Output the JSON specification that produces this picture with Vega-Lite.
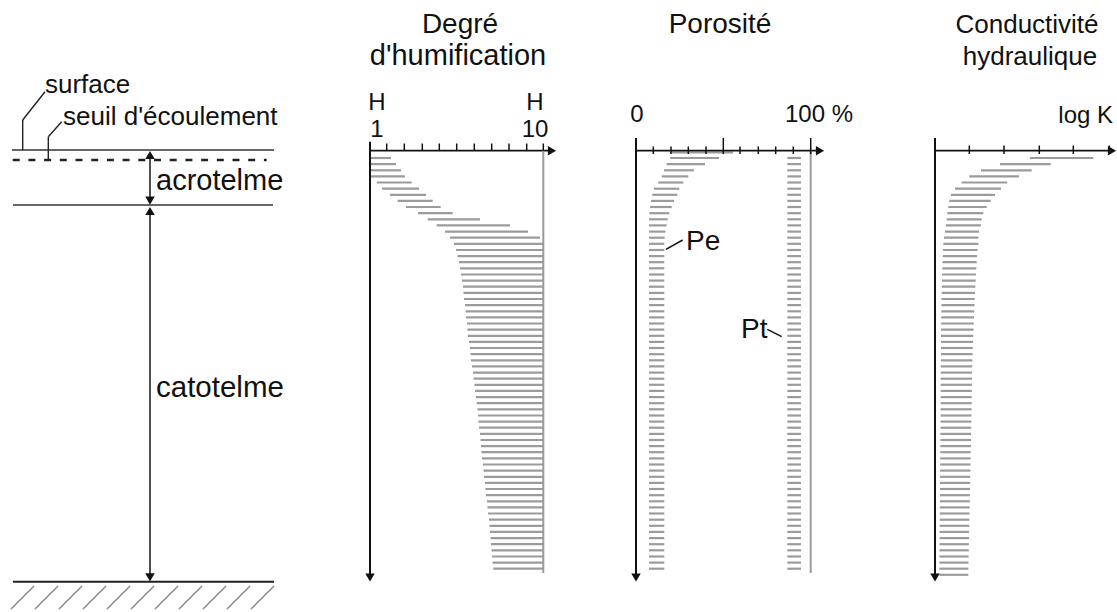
{
"$schema":"https://vega.github.io/schema/vega-lite/v6.json",
"width":1117,"height":612,"autosize":"none","padding":0,
"background":"white",
"config":{"view":{"stroke":null}},
"datasets":{
"bars":[
{"g":"H","y":158.0,"a":370,"b":391},{"g":"H","y":164.1,"a":370,"b":396},{"g":"H","y":170.3,"a":370,"b":401},{"g":"H","y":176.4,"a":370,"b":405},
{"g":"H","y":182.5,"a":376.7,"b":411.7},{"g":"H","y":188.7,"a":382,"b":419},{"g":"H","y":194.8,"a":390,"b":426},{"g":"H","y":200.9,"a":397.7,"b":432.7},
{"g":"H","y":207.0,"a":406,"b":440.7},{"g":"H","y":213.2,"a":418,"b":452.7},{"g":"H","y":219.3,"a":427.7,"b":480},{"g":"H","y":225.4,"a":436.7,"b":510},
{"g":"H","y":231.6,"a":445,"b":528},{"g":"H","y":237.7,"a":450,"b":540},{"g":"H","y":243.8,"a":454,"b":543.3},{"g":"H","y":250.0,"a":456,"b":543.3},
{"g":"H","y":256.1,"a":457.5,"b":543.3},{"g":"H","y":262.2,"a":459,"b":543.3},{"g":"H","y":268.3,"a":460,"b":543.3},{"g":"H","y":274.5,"a":461,"b":543.3},
{"g":"H","y":280.6,"a":462,"b":543.3},{"g":"H","y":286.7,"a":463,"b":543.3},{"g":"H","y":292.9,"a":463.5,"b":543.3},{"g":"H","y":299.0,"a":464,"b":543.3},
{"g":"H","y":305.1,"a":465,"b":543.3},{"g":"H","y":311.3,"a":465.5,"b":543.3},{"g":"H","y":317.4,"a":466,"b":543.3},{"g":"H","y":323.5,"a":467,"b":543.3},
{"g":"H","y":329.6,"a":467.5,"b":543.3},{"g":"H","y":335.8,"a":468,"b":543.3},{"g":"H","y":341.9,"a":469,"b":543.3},{"g":"H","y":348.0,"a":470,"b":543.3},
{"g":"H","y":354.2,"a":470.5,"b":543.3},{"g":"H","y":360.3,"a":471,"b":543.3},{"g":"H","y":366.4,"a":472,"b":543.3},{"g":"H","y":372.6,"a":473,"b":543.3},
{"g":"H","y":378.7,"a":473.5,"b":543.3},{"g":"H","y":384.8,"a":474.5,"b":543.3},{"g":"H","y":390.9,"a":475,"b":543.3},{"g":"H","y":397.1,"a":476,"b":543.3},
{"g":"H","y":403.2,"a":476.7,"b":543.3},{"g":"H","y":409.3,"a":477.5,"b":543.3},{"g":"H","y":415.5,"a":478,"b":543.3},{"g":"H","y":421.6,"a":478.5,"b":543.3},
{"g":"H","y":427.7,"a":479,"b":543.3},{"g":"H","y":433.9,"a":480,"b":543.3},{"g":"H","y":440.0,"a":480.5,"b":543.3},{"g":"H","y":446.1,"a":481,"b":543.3},
{"g":"H","y":452.2,"a":481.5,"b":543.3},{"g":"H","y":458.4,"a":482,"b":543.3},{"g":"H","y":464.5,"a":483,"b":543.3},{"g":"H","y":470.6,"a":483.5,"b":543.3},
{"g":"H","y":476.8,"a":484,"b":543.3},{"g":"H","y":482.9,"a":485,"b":543.3},{"g":"H","y":489.0,"a":485.5,"b":543.3},{"g":"H","y":495.2,"a":486,"b":543.3},
{"g":"H","y":501.3,"a":487,"b":543.3},{"g":"H","y":507.4,"a":487.5,"b":543.3},{"g":"H","y":513.5,"a":488,"b":543.3},{"g":"H","y":519.7,"a":489,"b":543.3},
{"g":"H","y":525.8,"a":489.5,"b":543.3},{"g":"H","y":531.9,"a":490,"b":543.3},{"g":"H","y":538.1,"a":490.5,"b":543.3},{"g":"H","y":544.2,"a":491,"b":543.3},
{"g":"H","y":550.3,"a":491.5,"b":543.3},{"g":"H","y":556.5,"a":492,"b":543.3},{"g":"H","y":562.6,"a":492.5,"b":543.3},{"g":"H","y":568.7,"a":493.3,"b":543.3},

{"g":"Pe","y":152.5,"a":671,"b":733},
{"g":"Pe","y":158.0,"a":670,"b":719},{"g":"Pe","y":164.1,"a":666.7,"b":705},{"g":"Pe","y":170.3,"a":664,"b":694},{"g":"Pe","y":176.4,"a":661.7,"b":688.3},
{"g":"Pe","y":182.5,"a":658.3,"b":683.3},{"g":"Pe","y":188.7,"a":654,"b":679.3},{"g":"Pe","y":194.8,"a":652.3,"b":677.3},{"g":"Pe","y":200.9,"a":651,"b":674},
{"g":"Pe","y":207.0,"a":650,"b":671.7},{"g":"Pe","y":213.2,"a":649.3,"b":669.3},{"g":"Pe","y":219.3,"a":649,"b":667.7},{"g":"Pe","y":225.4,"a":649,"b":666.7},
{"g":"Pe","y":231.6,"a":649,"b":665.5},{"g":"Pe","y":237.7,"a":649,"b":664.7},{"g":"Pe","y":243.8,"a":649,"b":664.3},{"g":"Pe","y":250.0,"a":649,"b":664.3},
{"g":"Pe","y":256.1,"a":649,"b":664.3},{"g":"Pe","y":262.2,"a":649,"b":664.3},{"g":"Pe","y":268.3,"a":649,"b":664.3},{"g":"Pe","y":274.5,"a":649,"b":664.3},
{"g":"Pe","y":280.6,"a":649,"b":664.3},{"g":"Pe","y":286.7,"a":649,"b":664.3},{"g":"Pe","y":292.9,"a":649,"b":664.3},{"g":"Pe","y":299.0,"a":649,"b":664.3},
{"g":"Pe","y":305.1,"a":649,"b":664.3},{"g":"Pe","y":311.3,"a":649,"b":664.3},{"g":"Pe","y":317.4,"a":649,"b":664.3},{"g":"Pe","y":323.5,"a":649,"b":664.3},
{"g":"Pe","y":329.6,"a":649,"b":664.3},{"g":"Pe","y":335.8,"a":649,"b":664.3},{"g":"Pe","y":341.9,"a":649,"b":664.3},{"g":"Pe","y":348.0,"a":649,"b":664.3},
{"g":"Pe","y":354.2,"a":649,"b":664.3},{"g":"Pe","y":360.3,"a":649,"b":664.3},{"g":"Pe","y":366.4,"a":649,"b":664.3},{"g":"Pe","y":372.6,"a":649,"b":664.3},
{"g":"Pe","y":378.7,"a":649,"b":664.3},{"g":"Pe","y":384.8,"a":649,"b":664.3},{"g":"Pe","y":390.9,"a":649,"b":664.3},{"g":"Pe","y":397.1,"a":649,"b":664.3},
{"g":"Pe","y":403.2,"a":649,"b":664.3},{"g":"Pe","y":409.3,"a":649,"b":664.3},{"g":"Pe","y":415.5,"a":649,"b":664.3},{"g":"Pe","y":421.6,"a":649,"b":664.3},
{"g":"Pe","y":427.7,"a":649,"b":664.3},{"g":"Pe","y":433.9,"a":649,"b":664.3},{"g":"Pe","y":440.0,"a":649,"b":664.3},{"g":"Pe","y":446.1,"a":649,"b":664.3},
{"g":"Pe","y":452.2,"a":649,"b":664.3},{"g":"Pe","y":458.4,"a":649,"b":664.3},{"g":"Pe","y":464.5,"a":649,"b":664.3},{"g":"Pe","y":470.6,"a":649,"b":664.3},
{"g":"Pe","y":476.8,"a":649,"b":664.3},{"g":"Pe","y":482.9,"a":649,"b":664.3},{"g":"Pe","y":489.0,"a":649,"b":664.3},{"g":"Pe","y":495.2,"a":649,"b":664.3},
{"g":"Pe","y":501.3,"a":649,"b":664.3},{"g":"Pe","y":507.4,"a":649,"b":664.3},{"g":"Pe","y":513.5,"a":649,"b":664.3},{"g":"Pe","y":519.7,"a":649,"b":664.3},
{"g":"Pe","y":525.8,"a":649,"b":664.3},{"g":"Pe","y":531.9,"a":649,"b":664.3},{"g":"Pe","y":538.1,"a":649,"b":664.3},{"g":"Pe","y":544.2,"a":649,"b":664.3},
{"g":"Pe","y":550.3,"a":649,"b":664.3},{"g":"Pe","y":556.5,"a":649,"b":664.3},{"g":"Pe","y":562.6,"a":649,"b":664.3},{"g":"Pe","y":568.7,"a":649,"b":664.3},

{"g":"Pt","y":158.0,"a":787.3,"b":801},{"g":"Pt","y":164.1,"a":787.3,"b":801},{"g":"Pt","y":170.3,"a":787.3,"b":801},{"g":"Pt","y":176.4,"a":787.3,"b":801},
{"g":"Pt","y":182.5,"a":787.3,"b":801},{"g":"Pt","y":188.7,"a":787.3,"b":801},{"g":"Pt","y":194.8,"a":787.3,"b":801},{"g":"Pt","y":200.9,"a":787.3,"b":801},
{"g":"Pt","y":207.0,"a":787.3,"b":801},{"g":"Pt","y":213.2,"a":787.3,"b":801},{"g":"Pt","y":219.3,"a":787.3,"b":801},{"g":"Pt","y":225.4,"a":787.3,"b":801},
{"g":"Pt","y":231.6,"a":787.3,"b":801},{"g":"Pt","y":237.7,"a":787.3,"b":801},{"g":"Pt","y":243.8,"a":787.3,"b":801},{"g":"Pt","y":250.0,"a":787.3,"b":801},
{"g":"Pt","y":256.1,"a":787.3,"b":801},{"g":"Pt","y":262.2,"a":787.3,"b":801},{"g":"Pt","y":268.3,"a":787.3,"b":801},{"g":"Pt","y":274.5,"a":787.3,"b":801},
{"g":"Pt","y":280.6,"a":787.3,"b":801},{"g":"Pt","y":286.7,"a":787.3,"b":801},{"g":"Pt","y":292.9,"a":787.3,"b":801},{"g":"Pt","y":299.0,"a":787.3,"b":801},
{"g":"Pt","y":305.1,"a":787.3,"b":801},{"g":"Pt","y":311.3,"a":787.3,"b":801},{"g":"Pt","y":317.4,"a":787.3,"b":801},{"g":"Pt","y":323.5,"a":787.3,"b":801},
{"g":"Pt","y":329.6,"a":787.3,"b":801},{"g":"Pt","y":335.8,"a":787.3,"b":801},{"g":"Pt","y":341.9,"a":787.3,"b":801},{"g":"Pt","y":348.0,"a":787.3,"b":801},
{"g":"Pt","y":354.2,"a":787.3,"b":801},{"g":"Pt","y":360.3,"a":787.3,"b":801},{"g":"Pt","y":366.4,"a":787.3,"b":801},{"g":"Pt","y":372.6,"a":787.3,"b":801},
{"g":"Pt","y":378.7,"a":787.3,"b":801},{"g":"Pt","y":384.8,"a":787.3,"b":801},{"g":"Pt","y":390.9,"a":787.3,"b":801},{"g":"Pt","y":397.1,"a":787.3,"b":801},
{"g":"Pt","y":403.2,"a":787.3,"b":801},{"g":"Pt","y":409.3,"a":787.3,"b":801},{"g":"Pt","y":415.5,"a":787.3,"b":801},{"g":"Pt","y":421.6,"a":787.3,"b":801},
{"g":"Pt","y":427.7,"a":787.3,"b":801},{"g":"Pt","y":433.9,"a":787.3,"b":801},{"g":"Pt","y":440.0,"a":787.3,"b":801},{"g":"Pt","y":446.1,"a":787.3,"b":801},
{"g":"Pt","y":452.2,"a":787.3,"b":801},{"g":"Pt","y":458.4,"a":787.3,"b":801},{"g":"Pt","y":464.5,"a":787.3,"b":801},{"g":"Pt","y":470.6,"a":787.3,"b":801},
{"g":"Pt","y":476.8,"a":787.3,"b":801},{"g":"Pt","y":482.9,"a":787.3,"b":801},{"g":"Pt","y":489.0,"a":787.3,"b":801},{"g":"Pt","y":495.2,"a":787.3,"b":801},
{"g":"Pt","y":501.3,"a":787.3,"b":801},{"g":"Pt","y":507.4,"a":787.3,"b":801},{"g":"Pt","y":513.5,"a":787.3,"b":801},{"g":"Pt","y":519.7,"a":787.3,"b":801},
{"g":"Pt","y":525.8,"a":787.3,"b":801},{"g":"Pt","y":531.9,"a":787.3,"b":801},{"g":"Pt","y":538.1,"a":787.3,"b":801},{"g":"Pt","y":544.2,"a":787.3,"b":801},
{"g":"Pt","y":550.3,"a":787.3,"b":801},{"g":"Pt","y":556.5,"a":787.3,"b":801},{"g":"Pt","y":562.6,"a":787.3,"b":801},{"g":"Pt","y":568.7,"a":787.3,"b":801},

{"g":"K","y":158.0,"a":1030,"b":1093.3},{"g":"K","y":164.1,"a":1000,"b":1050.7},{"g":"K","y":170.3,"a":981,"b":1031.7},{"g":"K","y":176.4,"a":969.3,"b":1019},
{"g":"K","y":182.5,"a":961.7,"b":1007.3},{"g":"K","y":188.7,"a":955,"b":1001},{"g":"K","y":194.8,"a":951,"b":995},{"g":"K","y":200.9,"a":949.3,"b":990.7},
{"g":"K","y":207.0,"a":948.3,"b":986.7},{"g":"K","y":213.2,"a":947.3,"b":983.3},{"g":"K","y":219.3,"a":946.7,"b":981.7},{"g":"K","y":225.4,"a":945.7,"b":980.7},
{"g":"K","y":231.6,"a":945,"b":979},{"g":"K","y":237.7,"a":944,"b":978.3},{"g":"K","y":243.8,"a":943.3,"b":978.3},{"g":"K","y":250.0,"a":943,"b":977.5},
{"g":"K","y":256.1,"a":942.7,"b":977},{"g":"K","y":262.2,"a":942.5,"b":976.7},{"g":"K","y":268.3,"a":942.3,"b":976.3},{"g":"K","y":274.5,"a":942,"b":976},
{"g":"K","y":280.6,"a":942,"b":975.7},{"g":"K","y":286.7,"a":941.8,"b":975.3},{"g":"K","y":292.9,"a":941.7,"b":975},{"g":"K","y":299.0,"a":941.5,"b":974.7},
{"g":"K","y":305.1,"a":941.5,"b":974.5},{"g":"K","y":311.3,"a":941.3,"b":974.2},{"g":"K","y":317.4,"a":941.2,"b":974},{"g":"K","y":323.5,"a":941.1,"b":973.7},
{"g":"K","y":329.6,"a":941,"b":973.5},{"g":"K","y":335.8,"a":941,"b":973.3},{"g":"K","y":341.9,"a":941,"b":973},{"g":"K","y":348.0,"a":941,"b":972.8},
{"g":"K","y":354.2,"a":940.9,"b":972.6},{"g":"K","y":360.3,"a":940.9,"b":972.4},{"g":"K","y":366.4,"a":940.8,"b":972.2},{"g":"K","y":372.6,"a":940.8,"b":972},
{"g":"K","y":378.7,"a":940.8,"b":972},{"g":"K","y":384.8,"a":940.7,"b":971.9},{"g":"K","y":390.9,"a":940.7,"b":971.8},{"g":"K","y":397.1,"a":940.7,"b":971.7},
{"g":"K","y":403.2,"a":940.7,"b":971.7},{"g":"K","y":409.3,"a":940.6,"b":971.6},{"g":"K","y":415.5,"a":940.6,"b":971.5},{"g":"K","y":421.6,"a":940.5,"b":971.4},
{"g":"K","y":427.7,"a":940.5,"b":971.2},{"g":"K","y":433.9,"a":940.4,"b":971.1},{"g":"K","y":440.0,"a":940.4,"b":971},{"g":"K","y":446.1,"a":940.3,"b":970.9},
{"g":"K","y":452.2,"a":940.3,"b":970.7},{"g":"K","y":458.4,"a":940.2,"b":970.6},{"g":"K","y":464.5,"a":940.2,"b":970.5},{"g":"K","y":470.6,"a":940.1,"b":970.4},
{"g":"K","y":476.8,"a":940.1,"b":970.2},{"g":"K","y":482.9,"a":940,"b":970.1},{"g":"K","y":489.0,"a":940,"b":970},{"g":"K","y":495.2,"a":939.9,"b":969.9},
{"g":"K","y":501.3,"a":939.9,"b":969.8},{"g":"K","y":507.4,"a":939.8,"b":969.6},{"g":"K","y":513.5,"a":939.8,"b":969.5},{"g":"K","y":519.7,"a":939.7,"b":969.4},
{"g":"K","y":525.8,"a":939.7,"b":969.3},{"g":"K","y":531.9,"a":939.6,"b":969.1},{"g":"K","y":538.1,"a":939.6,"b":969},{"g":"K","y":544.2,"a":939.5,"b":968.9},
{"g":"K","y":550.3,"a":939.5,"b":968.8},{"g":"K","y":556.5,"a":939.4,"b":968.6},{"g":"K","y":562.6,"a":939.4,"b":968.5},{"g":"K","y":568.7,"a":939.3,"b":968.4},
{"g":"K","y":574.8,"a":939.3,"b":968.3}
],
"lines":[
{"x1":12,"y1":150,"x2":274,"y2":150,"c":"#333333","w":1.6},
{"x1":13,"y1":205,"x2":273,"y2":205,"c":"#333333","w":1.6},
{"x1":13,"y1":581.7,"x2":274,"y2":581.7,"c":"#222222","w":2},
{"x1":150,"y1":156,"x2":150,"y2":200,"c":"#222222","w":1.6},
{"x1":150,"y1":212,"x2":150,"y2":576,"c":"#222222","w":1.6},
{"x1":22.7,"y1":150,"x2":22.7,"y2":120,"c":"#222222","w":1.4},
{"x1":22.7,"y1":120,"x2":45,"y2":91.7,"c":"#222222","w":1.4},
{"x1":48.3,"y1":160,"x2":48.3,"y2":136.7,"c":"#222222","w":1.4},
{"x1":48.3,"y1":136.7,"x2":61.7,"y2":121.7,"c":"#222222","w":1.4},
{"x1":11,"y1":609,"x2":34,"y2":586,"c":"#888888","w":1.4},
{"x1":35,"y1":609,"x2":58,"y2":586,"c":"#888888","w":1.4},
{"x1":59,"y1":609,"x2":82,"y2":586,"c":"#888888","w":1.4},
{"x1":83,"y1":609,"x2":106,"y2":586,"c":"#888888","w":1.4},
{"x1":107,"y1":609,"x2":130,"y2":586,"c":"#888888","w":1.4},
{"x1":131,"y1":609,"x2":154,"y2":586,"c":"#888888","w":1.4},
{"x1":155,"y1":609,"x2":178,"y2":586,"c":"#888888","w":1.4},
{"x1":179,"y1":609,"x2":202,"y2":586,"c":"#888888","w":1.4},
{"x1":203,"y1":609,"x2":226,"y2":586,"c":"#888888","w":1.4},
{"x1":227,"y1":609,"x2":250,"y2":586,"c":"#888888","w":1.4},
{"x1":251,"y1":609,"x2":274,"y2":586,"c":"#888888","w":1.4},

{"x1":370,"y1":150.7,"x2":549,"y2":150.7,"c":"#111111","w":1.8},
{"x1":370,"y1":141.7,"x2":370,"y2":576,"c":"#111111","w":2},
{"x1":543.3,"y1":150.7,"x2":543.3,"y2":573,"c":"#9a9a9a","w":2},
{"x1":386.7,"y1":143.5,"x2":386.7,"y2":150.7,"c":"#111111","w":1.5},
{"x1":404.3,"y1":143.5,"x2":404.3,"y2":150.7,"c":"#111111","w":1.5},
{"x1":422.3,"y1":143.5,"x2":422.3,"y2":150.7,"c":"#111111","w":1.5},
{"x1":439.3,"y1":143.5,"x2":439.3,"y2":150.7,"c":"#111111","w":1.5},
{"x1":456.7,"y1":143.5,"x2":456.7,"y2":150.7,"c":"#111111","w":1.5},
{"x1":474.3,"y1":143.5,"x2":474.3,"y2":150.7,"c":"#111111","w":1.5},
{"x1":491.7,"y1":143.5,"x2":491.7,"y2":150.7,"c":"#111111","w":1.5},
{"x1":509,"y1":143.5,"x2":509,"y2":150.7,"c":"#111111","w":1.5},
{"x1":526.7,"y1":143.5,"x2":526.7,"y2":150.7,"c":"#111111","w":1.5},
{"x1":543.3,"y1":143.5,"x2":543.3,"y2":150.7,"c":"#111111","w":1.5},

{"x1":636,"y1":150.7,"x2":816,"y2":150.7,"c":"#111111","w":1.8},
{"x1":636,"y1":138,"x2":636,"y2":576,"c":"#111111","w":2},
{"x1":810.7,"y1":150.7,"x2":810.7,"y2":573,"c":"#9a9a9a","w":2},
{"x1":653.3,"y1":146.5,"x2":653.3,"y2":154,"c":"#111111","w":1.5},
{"x1":671,"y1":146.5,"x2":671,"y2":154,"c":"#111111","w":1.5},
{"x1":688.3,"y1":146.5,"x2":688.3,"y2":154,"c":"#111111","w":1.5},
{"x1":706,"y1":146.5,"x2":706,"y2":154,"c":"#111111","w":1.5},
{"x1":723.3,"y1":138,"x2":723.3,"y2":154,"c":"#111111","w":1.5},
{"x1":740,"y1":146.5,"x2":740,"y2":154,"c":"#111111","w":1.5},
{"x1":758.3,"y1":146.5,"x2":758.3,"y2":154,"c":"#111111","w":1.5},
{"x1":775.7,"y1":146.5,"x2":775.7,"y2":154,"c":"#111111","w":1.5},
{"x1":793.3,"y1":146.5,"x2":793.3,"y2":154,"c":"#111111","w":1.5},
{"x1":810.7,"y1":138,"x2":810.7,"y2":154,"c":"#111111","w":1.5},
{"x1":666,"y1":249.3,"x2":682.7,"y2":240,"c":"#111111","w":1.5},
{"x1":767.3,"y1":329.3,"x2":781.7,"y2":336.7,"c":"#111111","w":1.5},

{"x1":935,"y1":150.7,"x2":1109,"y2":150.7,"c":"#111111","w":1.8},
{"x1":935,"y1":138,"x2":935,"y2":576,"c":"#111111","w":2},
{"x1":969.3,"y1":145.5,"x2":969.3,"y2":154,"c":"#111111","w":1.5},
{"x1":1004,"y1":145.5,"x2":1004,"y2":154,"c":"#111111","w":1.5},
{"x1":1039.3,"y1":145.5,"x2":1039.3,"y2":154,"c":"#111111","w":1.5},
{"x1":1073.3,"y1":145.5,"x2":1073.3,"y2":154,"c":"#111111","w":1.5},
{"x1":1109.3,"y1":145.5,"x2":1109.3,"y2":154,"c":"#111111","w":1.5}
],
"dashed":[{"x1":12.7,"y1":160,"x2":266.7,"y2":160}],
"arrows":[
{"x":552,"y":150.7,"sh":"triangle-right"},
{"x":820,"y":150.7,"sh":"triangle-right"},
{"x":1112,"y":150.7,"sh":"triangle-right"},
{"x":370,"y":577.5,"sh":"triangle-down"},
{"x":636,"y":577.5,"sh":"triangle-down"},
{"x":935,"y":577.5,"sh":"triangle-down"},
{"x":150,"y":155,"sh":"triangle-up"},
{"x":150,"y":200.7,"sh":"triangle-down"},
{"x":150,"y":211,"sh":"triangle-up"},
{"x":150,"y":577.3,"sh":"triangle-down"}
],
"tleft":[
{"x":45,"y":93,"t":"surface","fs":26},
{"x":63,"y":125,"t":"seuil d'écoulement","fs":26},
{"x":156,"y":190,"t":"acrotelme","fs":29},
{"x":156,"y":397,"t":"catotelme","fs":29.5},
{"x":686,"y":250,"t":"Pe","fs":28},
{"x":741,"y":338,"t":"Pt","fs":28}
],
"tcenter":[
{"x":460,"y":33,"t":"Degré","fs":28},
{"x":458,"y":65,"t":"d'humification","fs":29},
{"x":720,"y":33,"t":"Porosité","fs":28},
{"x":1027,"y":33,"t":"Conductivité","fs":26},
{"x":1030,"y":65,"t":"hydraulique","fs":26},
{"x":377,"y":110,"t":"H","fs":24},
{"x":377,"y":137,"t":"1","fs":24},
{"x":535,"y":110,"t":"H","fs":24},
{"x":535,"y":137,"t":"10","fs":24},
{"x":637,"y":122,"t":"0","fs":24},
{"x":819,"y":122,"t":"100 %","fs":24}
],
"tright":[
{"x":1113,"y":123,"t":"log K","fs":24}
]
},
"layer":[
{"data":{"name":"bars"},
 "mark":{"type":"rule","color":"#9b9b9b","strokeWidth":2.2},
 "encoding":{
  "x":{"field":"a","type":"quantitative","scale":{"domain":[0,1117],"nice":false,"zero":false},"axis":null},
  "x2":{"field":"b"},
  "y":{"field":"y","type":"quantitative","scale":{"domain":[0,612],"nice":false,"zero":false,"reverse":true},"axis":null}}},
{"data":{"name":"lines"},
 "mark":{"type":"rule","strokeCap":"butt"},
 "encoding":{
  "x":{"field":"x1","type":"quantitative","scale":{"domain":[0,1117],"nice":false,"zero":false},"axis":null},
  "x2":{"field":"x2"},
  "y":{"field":"y1","type":"quantitative","scale":{"domain":[0,612],"nice":false,"zero":false,"reverse":true},"axis":null},
  "y2":{"field":"y2"},
  "color":{"field":"c","type":"nominal","scale":null},
  "strokeWidth":{"field":"w","type":"quantitative","scale":null}}},
{"data":{"name":"dashed"},
 "mark":{"type":"rule","color":"#222222","strokeWidth":2.6,"strokeDash":[7,8.7]},
 "encoding":{
  "x":{"field":"x1","type":"quantitative","scale":{"domain":[0,1117],"nice":false,"zero":false},"axis":null},
  "x2":{"field":"x2"},
  "y":{"field":"y1","type":"quantitative","scale":{"domain":[0,612],"nice":false,"zero":false,"reverse":true},"axis":null},
  "y2":{"field":"y2"}}},
{"data":{"name":"arrows"},
 "mark":{"type":"point","filled":true,"color":"#111111","opacity":1,"size":90},
 "encoding":{
  "x":{"field":"x","type":"quantitative","scale":{"domain":[0,1117],"nice":false,"zero":false},"axis":null},
  "y":{"field":"y","type":"quantitative","scale":{"domain":[0,612],"nice":false,"zero":false,"reverse":true},"axis":null},
  "shape":{"field":"sh","type":"nominal","scale":null}}},
{"data":{"name":"tleft"},
 "mark":{"type":"text","align":"left","baseline":"alphabetic","font":"Liberation Sans","color":"#111111"},
 "encoding":{
  "x":{"field":"x","type":"quantitative","scale":{"domain":[0,1117],"nice":false,"zero":false},"axis":null},
  "y":{"field":"y","type":"quantitative","scale":{"domain":[0,612],"nice":false,"zero":false,"reverse":true},"axis":null},
  "text":{"field":"t"},
  "size":{"field":"fs","type":"quantitative","scale":null}}},
{"data":{"name":"tcenter"},
 "mark":{"type":"text","align":"center","baseline":"alphabetic","font":"Liberation Sans","color":"#111111"},
 "encoding":{
  "x":{"field":"x","type":"quantitative","scale":{"domain":[0,1117],"nice":false,"zero":false},"axis":null},
  "y":{"field":"y","type":"quantitative","scale":{"domain":[0,612],"nice":false,"zero":false,"reverse":true},"axis":null},
  "text":{"field":"t"},
  "size":{"field":"fs","type":"quantitative","scale":null}}},
{"data":{"name":"tright"},
 "mark":{"type":"text","align":"right","baseline":"alphabetic","font":"Liberation Sans","color":"#111111"},
 "encoding":{
  "x":{"field":"x","type":"quantitative","scale":{"domain":[0,1117],"nice":false,"zero":false},"axis":null},
  "y":{"field":"y","type":"quantitative","scale":{"domain":[0,612],"nice":false,"zero":false,"reverse":true},"axis":null},
  "text":{"field":"t"},
  "size":{"field":"fs","type":"quantitative","scale":null}}}
]
}
